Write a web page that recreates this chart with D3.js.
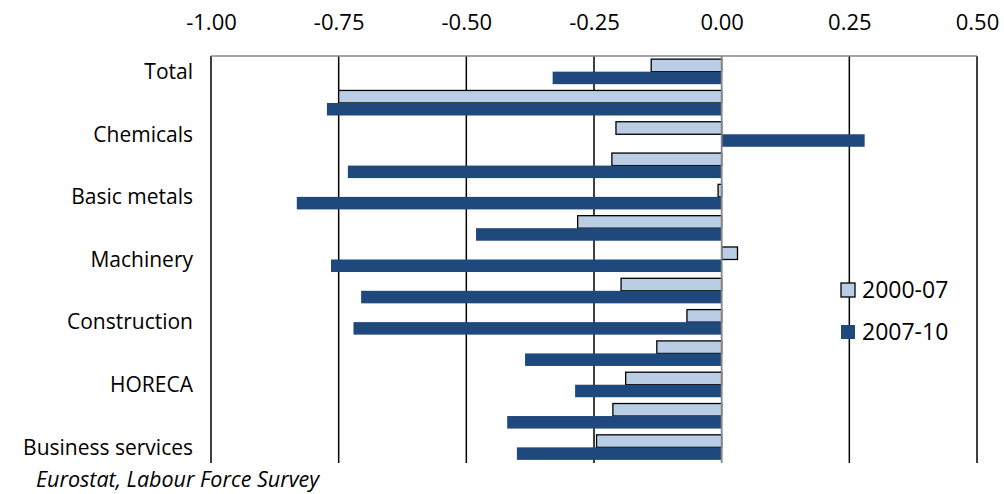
<!DOCTYPE html>
<html>
<head>
<meta charset="utf-8">
<script src="https://cdn.jsdelivr.net/npm/d3@7"></script>
<style>
  html, body { margin: 0; padding: 0; background: #fff; }
  svg { display: block; }
  text { font-family: "Open Sans", "Noto Sans", sans-serif; fill: #000; }
</style>
</head>
<body>
<svg id="chart" width="1004" height="494"></svg>
<script>
// Change in employment share by sector (labels shown for every other row)
const categories = ["Total", "", "Chemicals", "", "Basic metals", "", "Machinery", "",
                    "Construction", "", "HORECA", "", "Business services"];
const seriesNames = ["2000-07", "2007-10"];
const values2000_07 = [-0.138, -0.750, -0.207, -0.215, -0.007, -0.282, 0.031,
                       -0.197, -0.068, -0.127, -0.188, -0.213, -0.245];
const values2007_10 = [-0.331, -0.773, 0.280, -0.732, -0.832, -0.481, -0.765,
                       -0.706, -0.721, -0.385, -0.287, -0.420, -0.401];
const xTicks = [-1.00, -0.75, -0.50, -0.25, 0.00, 0.25, 0.50];
const sourceNote = "Eurostat, Labour Force Survey";

const colors = { "2000-07": "#B9CDE5", "2007-10": "#1F497D" };
const seriesValues = { "2000-07": values2000_07, "2007-10": values2007_10 };

const svg = d3.select("#chart");
const plot = { left: 211, right: 977, top: 56, bottom: 463 };

const x = d3.scaleLinear().domain([-1, 0.5]).range([plot.left, plot.right]);
const y = d3.scaleBand()
  .domain(d3.range(categories.length))
  .range([plot.top, plot.bottom])
  .paddingInner(0.2)
  .paddingOuter(0.1);
const ySub = d3.scaleBand().domain(seriesNames).range([0, y.bandwidth()]);

// vertical gridlines
svg.append("g")
  .selectAll("line")
  .data(xTicks.filter(t => t !== 0))
  .join("line")
  .attr("x1", d => x(d)).attr("x2", d => x(d))
  .attr("y1", plot.top).attr("y2", plot.bottom)
  .attr("stroke", "#000").attr("stroke-width", 1.5);

// top border of plot area
svg.append("line")
  .attr("x1", plot.left).attr("x2", plot.right)
  .attr("y1", plot.top).attr("y2", plot.top)
  .attr("stroke", "#868686").attr("stroke-width", 1.5);

// top value axis labels (plain hyphen for negatives)
const fmt = d3.format(".2f");
const xAxis = d3.axisTop(x)
  .tickValues(xTicks)
  .tickFormat(d => fmt(d).replace("\u2212", "-"))
  .tickSize(0).tickPadding(0);
const gx = svg.append("g").attr("transform", `translate(0,30)`).call(xAxis);
gx.select(".domain").remove();
gx.selectAll("text").attr("font-size", 22).attr("font-family", "'Open Sans', sans-serif").attr("fill", "#000");

// bars
const groups = svg.append("g")
  .selectAll("g")
  .data(categories.map((c, i) => i))
  .join("g")
  .attr("transform", i => `translate(0,${y(i)})`);

groups.selectAll("rect")
  .data(i => seriesNames.map(s => ({ s, v: seriesValues[s][i] })))
  .join("rect")
  .attr("x", d => x(Math.min(0, d.v)))
  .attr("width", d => Math.abs(x(d.v) - x(0)))
  .attr("y", d => ySub(d.s))
  .attr("height", ySub.bandwidth())
  .attr("fill", d => colors[d.s])
  .attr("stroke", d => d.s === "2000-07" ? "#000" : "none")
  .attr("stroke-width", 1.3);

// zero axis line
svg.append("line")
  .attr("x1", x(0)).attr("x2", x(0))
  .attr("y1", plot.top).attr("y2", plot.bottom)
  .attr("stroke", "#868686").attr("stroke-width", 1.8);

// category labels
svg.append("g")
  .selectAll("text")
  .data(categories.map((c, i) => ({ c, i })).filter(d => d.c !== ""))
  .join("text")
  .attr("x", 193)
  .attr("y", d => y(d.i) + y.bandwidth() / 2)
  .attr("dy", "0.35em")
  .attr("text-anchor", "end")
  .attr("font-size", 21)
  .text(d => d.c);

// legend
const legend = svg.append("g").attr("transform", "translate(841,283)");
const legendRows = legend.selectAll("g")
  .data(seriesNames)
  .join("g")
  .attr("transform", (d, i) => `translate(0,${i * 42})`);
legendRows.append("rect")
  .attr("width", 14).attr("height", 14)
  .attr("fill", d => colors[d])
  .attr("stroke", d => d === "2000-07" ? "#000" : "none")
  .attr("stroke-width", 1.3);
legendRows.append("text")
  .attr("x", 21).attr("y", 7).attr("dy", "0.35em")
  .attr("font-size", 23)
  .text(d => d);

// source note
svg.append("text")
  .attr("x", 36).attr("y", 487)
  .attr("font-size", 21.5)
  .attr("font-style", "italic")
  .text(sourceNote);
</script>
</body>
</html>
